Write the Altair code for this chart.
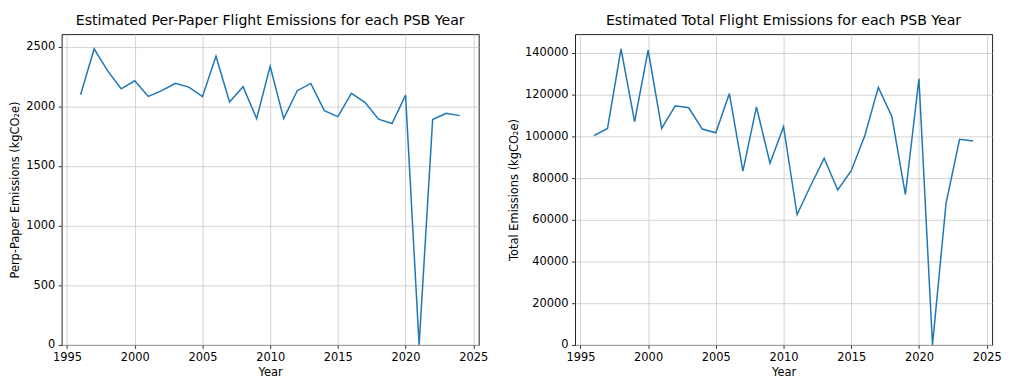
import altair as alt
import pandas as pd

years = list(range(1996, 2025))
per_paper = [2097, 2481, 2297, 2147, 2214, 2083, 2131, 2192, 2161, 2081,
             2419, 2036, 2164, 1897, 2336, 1897, 2131, 2192, 1964, 1914,
             2108, 2033, 1892, 1856, 2094, 0, 1889, 1942, 1922]
total = [100300, 103800, 141900, 107000, 141300, 103800, 114600, 113700, 103500, 101700,
         120500, 83300, 114100, 87100, 104600, 62500, 76300, 89500, 74300, 83500,
         100300, 123500, 109500, 72100, 127600, 0, 67900, 98600, 97800]

x_ticks = [1995, 2000, 2005, 2010, 2015, 2020, 2025]
left_ticks = [0, 500, 1000, 1500, 2000, 2500]
right_ticks = [0, 20000, 40000, 60000, 80000, 100000, 120000, 140000]

titles = ["Estimated Per-Paper Flight Emissions for each PSB Year",
          "Estimated Total Flight Emissions for each PSB Year"]
y_titles = ["Perp-Paper Emissions (kgCO\u2082e)", "Total Emissions (kgCO\u2082e)"]

df = pd.DataFrame({"Year": years, "PerPaper": per_paper, "Total": total})


def panel(field, title, ytitle, ymax, yticks):
    return alt.Chart(
        df,
        title=alt.Title(title, fontSize=14.2, font="DejaVu Sans", fontWeight="normal",
                        color="black", offset=6),
    ).mark_line(color="#1f77b4", strokeWidth=1.5).encode(
        x=alt.X("Year:Q",
                scale=alt.Scale(domain=[1994.6, 2025.4], nice=False, zero=False),
                axis=alt.Axis(values=x_ticks, format="d", title="Year")),
        y=alt.Y(field + ":Q",
                scale=alt.Scale(domain=[0, ymax], nice=False, zero=True),
                axis=alt.Axis(values=yticks, format="d", title=ytitle)),
    ).properties(width=420, height=313)


left = panel("PerPaper", titles[0], y_titles[0], 2605, left_ticks)
right = panel("Total", titles[1], y_titles[1], 149000, right_ticks)

chart = alt.hconcat(left, right, spacing=97, bounds="flush").properties(
    padding={"left": 1, "top": 4, "right": 0, "bottom": 0}
).configure_view(
    stroke="#222222", strokeWidth=1
).configure_axis(
    labelFont="DejaVu Sans", labelFontSize=11.5, labelColor="black",
    titleFont="DejaVu Sans", titleFontSize=11.5, titleFontWeight="normal", titleColor="black",
    tickColor="black", tickSize=3.5, labelPadding=3.5, tickWidth=0.8,
    domain=False, grid=True, gridColor="#c8c8c8", gridWidth=0.8,
).configure_axisY(titlePadding=5).configure_axisX(titlePadding=3)

chart.save("out.html", embed_options={"renderer": "svg", "actions": False})
